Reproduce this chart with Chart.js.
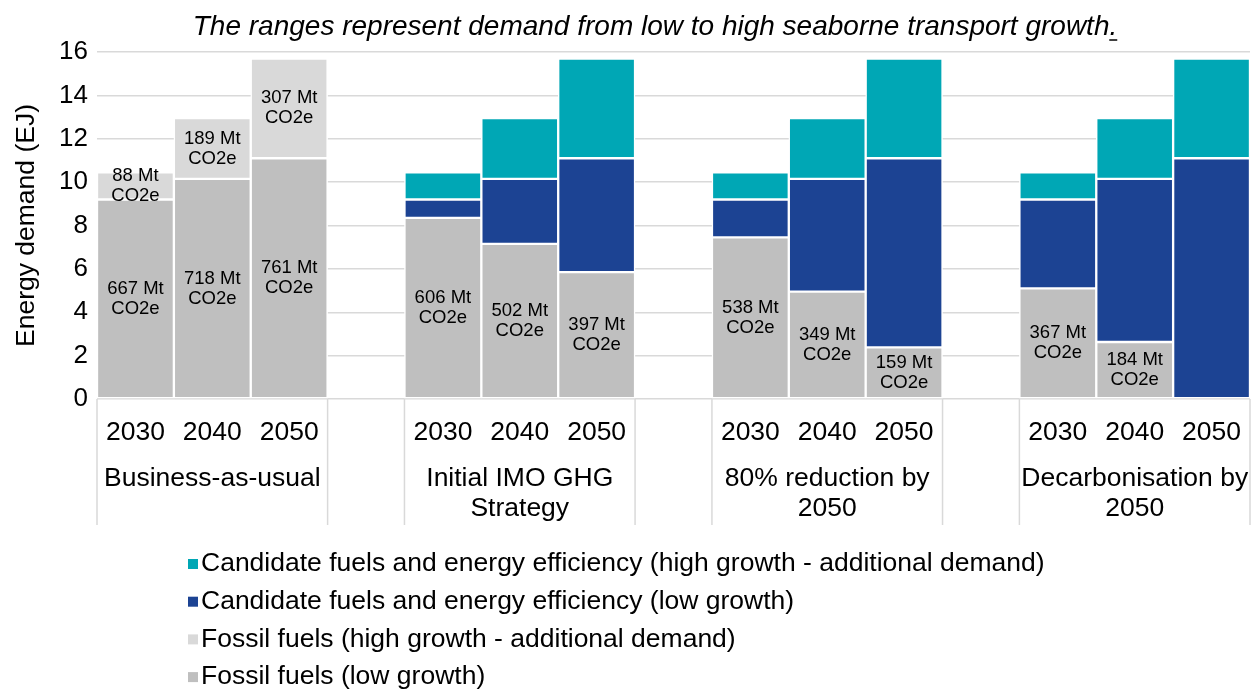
<!DOCTYPE html>
<html><head><meta charset="utf-8">
<script src="https://cdn.jsdelivr.net/npm/chart.js@4.4.1/dist/chart.umd.min.js"></script>
<style>html,body{margin:0;padding:0;background:#fff;}</style>
</head><body>
<canvas id="c" width="1255" height="690"></canvas>
<script>
// ---- data ----
const titleText = 'The ranges represent demand from low to high seaborne transport growth.';
const scenarioLines = [['Business-as-usual'], ['Initial IMO GHG', 'Strategy'], ['80% reduction by', '2050'], ['Decarbonisation by', '2050']];
const years = ['2030', '2040', '2050'];
const fossilLow = [[9.2, 10.15, 11.1], [8.35, 7.15, 5.85], [7.45, 4.95, 2.38], [5.1, 2.63, 0]];
const fossilHighAdd = [[1.25, 2.8, 4.6], [0, 0, 0], [0, 0, 0], [0, 0, 0]];
const candidateLow = [[0, 0, 0], [0.85, 3.0, 5.25], [1.75, 5.2, 8.72], [4.1, 7.52, 11.1]];
const candidateHighAdd = [[0, 0, 0], [1.25, 2.8, 4.6], [1.25, 2.8, 4.6], [1.25, 2.8, 4.6]];
const fossilLowLabels = [['667', '718', '761'], ['606', '502', '397'], ['538', '349', '159'], ['367', '184', null]];
const fossilHighLabels = [['88', '189', '307'], [null, null, null], [null, null, null], [null, null, null]];
const seriesNames = ['Fossil fuels (low growth)', 'Fossil fuels (high growth - additional demand)', 'Candidate fuels and energy efficiency (low growth)', 'Candidate fuels and energy efficiency (high growth - additional demand)'];
const seriesColors = ['#BFBFBF', '#D9D9D9', '#1C4393', '#00A7B5'];
const yAxisTitle = 'Energy demand (EJ)';
const yMin = 0, yMax = 16, yStep = 2;

// ---- build flat table (gap category between scenarios) ----
function flat(groups, gapVal) {
  const out = [];
  groups.forEach((g, i) => { g.forEach(v => out.push(v)); if (i < groups.length - 1) out.push(gapVal); });
  return out;
}
const xLabels = flat(scenarioLines.map(() => years), '');
const nz = v => (v === 0 ? null : v);
const seriesData = [fossilLow, fossilHighAdd, candidateLow, candidateHighAdd].map(s => flat(s, null).map(nz));
const seriesLabels = [flat(fossilLowLabels, null), flat(fossilHighLabels, null), null, null];

const FONT = '"Liberation Sans", Arial, sans-serif';

const decoPlugin = {
  id: 'deco',
  afterDatasetsDraw(chart) {
    const ctx = chart.ctx;
    ctx.save();
    ctx.fillStyle = '#000';
    ctx.textAlign = 'center';
    ctx.textBaseline = 'middle';
    ctx.font = '18.5px ' + FONT;
    seriesLabels.forEach((labs, di) => {
      if (!labs) return;
      const meta = chart.getDatasetMeta(di);
      meta.data.forEach((el, i) => {
        if (!labs[i] || chart.data.datasets[di].data[i] == null) return;
        const cy = (el.y + el.base) / 2;
        ctx.fillText(labs[i] + ' Mt', el.x, cy - 10);
        ctx.fillText('CO2e', el.x, cy + 10);
      });
    });
    ctx.restore();
  },
  afterDraw(chart) {
    const ctx = chart.ctx;
    const xs = chart.scales.x;
    const ca = chart.chartArea;
    const w = xs.getPixelForValue(1) - xs.getPixelForValue(0);
    ctx.save();
    // title
    ctx.font = 'italic 28px ' + FONT;
    ctx.fillStyle = '#000';
    ctx.textAlign = 'center';
    ctx.textBaseline = 'middle';
    const tx = 655, ty = 27;
    ctx.fillText(titleText, tx, ty);
    const tw = ctx.measureText(titleText).width;
    ctx.strokeStyle = '#000'; ctx.lineWidth = 1.5;
    ctx.beginPath(); ctx.moveTo(tx + tw / 2 - 8, ty + 13); ctx.lineTo(tx + tw / 2, ty + 13); ctx.stroke();
    // group separators
    ctx.strokeStyle = '#D9D9D9'; ctx.lineWidth = 1.5;
    const nG = scenarioLines.length;
    for (let g = 0; g < nG; g++) {
      const first = g * 4, last = first + 2;
      [xs.getPixelForValue(first) - w / 2, xs.getPixelForValue(last) + w / 2].forEach(px => {
        ctx.beginPath(); ctx.moveTo(px, ca.bottom); ctx.lineTo(px, 525); ctx.stroke();
      });
      // group labels
      ctx.font = '26.5px ' + FONT;
      ctx.fillStyle = '#000';
      const cx = xs.getPixelForValue(first + 1);
      scenarioLines[g].forEach((line, k) => ctx.fillText(line, cx, 479 + k * 30));
    }
    // legend (reverse order, vertical)
    ctx.textAlign = 'left';
    ctx.font = '26.5px ' + FONT;
    const order = [3, 2, 1, 0];
    order.forEach((di, k) => {
      const y = 564 + k * 37.7;
      ctx.fillStyle = seriesColors[di];
      ctx.fillRect(188, y - 5, 10, 10);
      ctx.fillStyle = '#000';
      ctx.fillText(seriesNames[di], 201, y);
    });
    ctx.restore();
  }
};

new Chart(document.getElementById('c'), {
  type: 'bar',
  data: {
    labels: xLabels,
    datasets: seriesNames.map((name, i) => ({
      label: name,
      data: seriesData[i],
      backgroundColor: seriesColors[i],
      borderColor: '#FFFFFF',
      borderWidth: 1.5,
      borderSkipped: false,
      barPercentage: 1.0,
      categoryPercentage: 1.0
    }))
  },
  options: {
    responsive: false,
    animation: false,
    devicePixelRatio: 1,
    layout: { padding: { top: 52, right: 5, bottom: 160, left: 0 } },
    plugins: { legend: { display: false }, title: { display: false }, tooltip: { enabled: false } },
    scales: {
      x: {
        stacked: true,
        grid: { display: false },
        border: { display: false },
        ticks: { font: { family: FONT, size: 26.5 }, color: '#000', padding: 10, autoSkip: false, maxRotation: 0 },
        afterFit(s) { s.height = 131; }
      },
      y: {
        stacked: true,
        min: yMin, max: yMax,
        ticks: { stepSize: yStep, font: { family: FONT, size: 26 }, color: '#000', padding: 9 },
        grid: { color: '#D9D9D9', lineWidth: 1.5, drawTicks: false },
        border: { display: false },
        title: { display: true, text: yAxisTitle, font: { family: FONT, size: 26.5 }, color: '#000', padding: { top: 11, bottom: 0 } },
        afterFit(s) { s.width = 97; }
      }
    }
  },
  plugins: [decoPlugin]
});
</script>
</body></html>
